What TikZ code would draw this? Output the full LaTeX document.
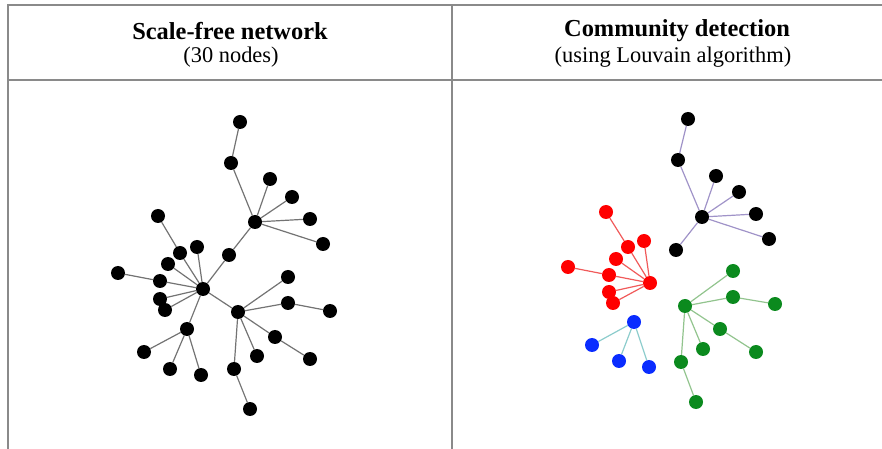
\documentclass[tikz,border=0pt]{standalone}
\usepackage{fontspec}
\setmainfont{Liberation Serif}
\usetikzlibrary{backgrounds}

\definecolor{rule}{HTML}{8A8A8A}
\definecolor{nblue}{HTML}{0A2CFF}
\definecolor{ngreen}{HTML}{0B8A1E}
\definecolor{epurple}{HTML}{A093C8}
\definecolor{ered}{HTML}{F05A5A}
\definecolor{eteal}{HTML}{8CCCCC}
\definecolor{egreen}{HTML}{92C48E}

\tikzset{
  vtx/.style = {circle, fill = #1, inner sep = 0pt, minimum size = 14bp},
  vtx/.default = black,
  lnk/.style = {draw = #1, line width = 1.2bp},
  lnk/.default = {black!55}
}

\begin{document}
\begin{tikzpicture}[x = 1bp, y = -1bp]
\useasboundingbox (0, 0) rectangle (882, 449);

\draw[rule, line width = 1.2bp] (8, 449) -- (8, 5) -- (882, 5);
\draw[rule, line width = 1.2bp] (8, 80) -- (882, 80);
\draw[rule, line width = 1.2bp] (452, 5) -- (452, 449);

\node (titleL) at (230, 31) {\fontsize{24.5}{27}\selectfont\bfseries Scale-free network};
\node (subL) at (231, 57) {\fontsize{22.5}{25}\selectfont (30 nodes)};
\node (titleR) at (677, 31) {\fontsize{24.5}{27}\selectfont\bfseries Community detection};
\node (subR) at (673, 57) {\fontsize{22.5}{25}\selectfont (using Louvain algorithm)};

% scale-free network
\node[vtx] (sN1) at (240, 122) {};
\node[vtx] (sN2) at (231, 163) {};
\node[vtx] (sA) at (255, 222) {};
\node[vtx] (sA1) at (270, 179) {};
\node[vtx] (sA2) at (292, 197) {};
\node[vtx] (sA3) at (310, 219) {};
\node[vtx] (sA4) at (323, 244) {};
\node[vtx] (sM) at (229, 255) {};
\node[vtx] (sC) at (203, 289) {};
\node[vtx] (sL1) at (158, 216) {};
\node[vtx] (sL2) at (180, 253) {};
\node[vtx] (sL3) at (197, 247) {};
\node[vtx] (sL4) at (168, 264) {};
\node[vtx] (sL5) at (160, 281) {};
\node[vtx] (sL6) at (118, 273) {};
\node[vtx] (sL7) at (160, 299) {};
\node[vtx] (sL8) at (165, 310) {};
\node[vtx] (sD) at (187, 329) {};
\node[vtx] (sD1) at (144, 352) {};
\node[vtx] (sD2) at (170, 369) {};
\node[vtx] (sD3) at (201, 375) {};
\node[vtx] (sB) at (238, 312) {};
\node[vtx] (sB1) at (288, 277) {};
\node[vtx] (sB2) at (288, 303) {};
\node[vtx] (sB3) at (330, 311) {};
\node[vtx] (sB4) at (275, 337) {};
\node[vtx] (sB5) at (310, 359) {};
\node[vtx] (sB6) at (257, 356) {};
\node[vtx] (sB7) at (234, 369) {};
\node[vtx] (sB8) at (250, 409) {};

% communities
\node[vtx] (rN1) at (688, 119) {};
\node[vtx] (rN2) at (678, 160) {};
\node[vtx] (rA) at (702, 217) {};
\node[vtx] (rA1) at (716, 176) {};
\node[vtx] (rA2) at (739, 192) {};
\node[vtx] (rA3) at (756, 214) {};
\node[vtx] (rA4) at (769, 239) {};
\node[vtx] (rM) at (676, 250) {};
\node[vtx = red] (rC) at (650, 283) {};
\node[vtx = red] (rL1) at (606, 212) {};
\node[vtx = red] (rL2) at (628, 247) {};
\node[vtx = red] (rL3) at (644, 241) {};
\node[vtx = red] (rL4) at (616, 259) {};
\node[vtx = red] (rL5) at (609, 275) {};
\node[vtx = red] (rL6) at (568, 267) {};
\node[vtx = red] (rL7) at (609, 292) {};
\node[vtx = red] (rL8) at (613, 303) {};
\node[vtx = nblue] (rD) at (634, 322) {};
\node[vtx = nblue] (rD1) at (592, 345) {};
\node[vtx = nblue] (rD2) at (619, 361) {};
\node[vtx = nblue] (rD3) at (649, 367) {};
\node[vtx = ngreen] (rB) at (685, 306) {};
\node[vtx = ngreen] (rB1) at (733, 271) {};
\node[vtx = ngreen] (rB2) at (733, 297) {};
\node[vtx = ngreen] (rB3) at (775, 304) {};
\node[vtx = ngreen] (rB4) at (720, 329) {};
\node[vtx = ngreen] (rB5) at (756, 352) {};
\node[vtx = ngreen] (rB6) at (703, 349) {};
\node[vtx = ngreen] (rB7) at (681, 362) {};
\node[vtx = ngreen] (rB8) at (696, 402) {};

\begin{pgfonlayer}{background}
\draw[lnk] (sN1) -- (sN2);
\draw[lnk] (sN2) -- (sA);
\draw[lnk] (sA) -- (sA1);
\draw[lnk] (sA) -- (sA2);
\draw[lnk] (sA) -- (sA3);
\draw[lnk] (sA) -- (sA4);
\draw[lnk] (sA) -- (sM);
\draw[lnk] (sM) -- (sC);
\draw[lnk] (sC) -- (sL2);
\draw[lnk] (sL2) -- (sL1);
\draw[lnk] (sC) -- (sL3);
\draw[lnk] (sC) -- (sL4);
\draw[lnk] (sC) -- (sL5);
\draw[lnk] (sL5) -- (sL6);
\draw[lnk] (sC) -- (sL7);
\draw[lnk] (sC) -- (sL8);
\draw[lnk] (sC) -- (sD);
\draw[lnk] (sD) -- (sD1);
\draw[lnk] (sD) -- (sD2);
\draw[lnk] (sD) -- (sD3);
\draw[lnk] (sC) -- (sB);
\draw[lnk] (sB) -- (sB1);
\draw[lnk] (sB) -- (sB2);
\draw[lnk] (sB2) -- (sB3);
\draw[lnk] (sB) -- (sB4);
\draw[lnk] (sB4) -- (sB5);
\draw[lnk] (sB) -- (sB6);
\draw[lnk] (sB) -- (sB7);
\draw[lnk] (sB7) -- (sB8);

\draw[lnk = epurple] (rN1) -- (rN2);
\draw[lnk = epurple] (rN2) -- (rA);
\draw[lnk = epurple] (rA) -- (rA1);
\draw[lnk = epurple] (rA) -- (rA2);
\draw[lnk = epurple] (rA) -- (rA3);
\draw[lnk = epurple] (rA) -- (rA4);
\draw[lnk = epurple] (rA) -- (rM);
\draw[lnk = ered] (rC) -- (rL2);
\draw[lnk = ered] (rL2) -- (rL1);
\draw[lnk = ered] (rC) -- (rL3);
\draw[lnk = ered] (rC) -- (rL4);
\draw[lnk = ered] (rC) -- (rL5);
\draw[lnk = ered] (rL5) -- (rL6);
\draw[lnk = ered] (rC) -- (rL7);
\draw[lnk = ered] (rC) -- (rL8);
\draw[lnk = eteal] (rD) -- (rD1);
\draw[lnk = eteal] (rD) -- (rD2);
\draw[lnk = eteal] (rD) -- (rD3);
\draw[lnk = egreen] (rB) -- (rB1);
\draw[lnk = egreen] (rB) -- (rB2);
\draw[lnk = egreen] (rB2) -- (rB3);
\draw[lnk = egreen] (rB) -- (rB4);
\draw[lnk = egreen] (rB4) -- (rB5);
\draw[lnk = egreen] (rB) -- (rB6);
\draw[lnk = egreen] (rB) -- (rB7);
\draw[lnk = egreen] (rB7) -- (rB8);
\end{pgfonlayer}
\end{tikzpicture}
\end{document}
